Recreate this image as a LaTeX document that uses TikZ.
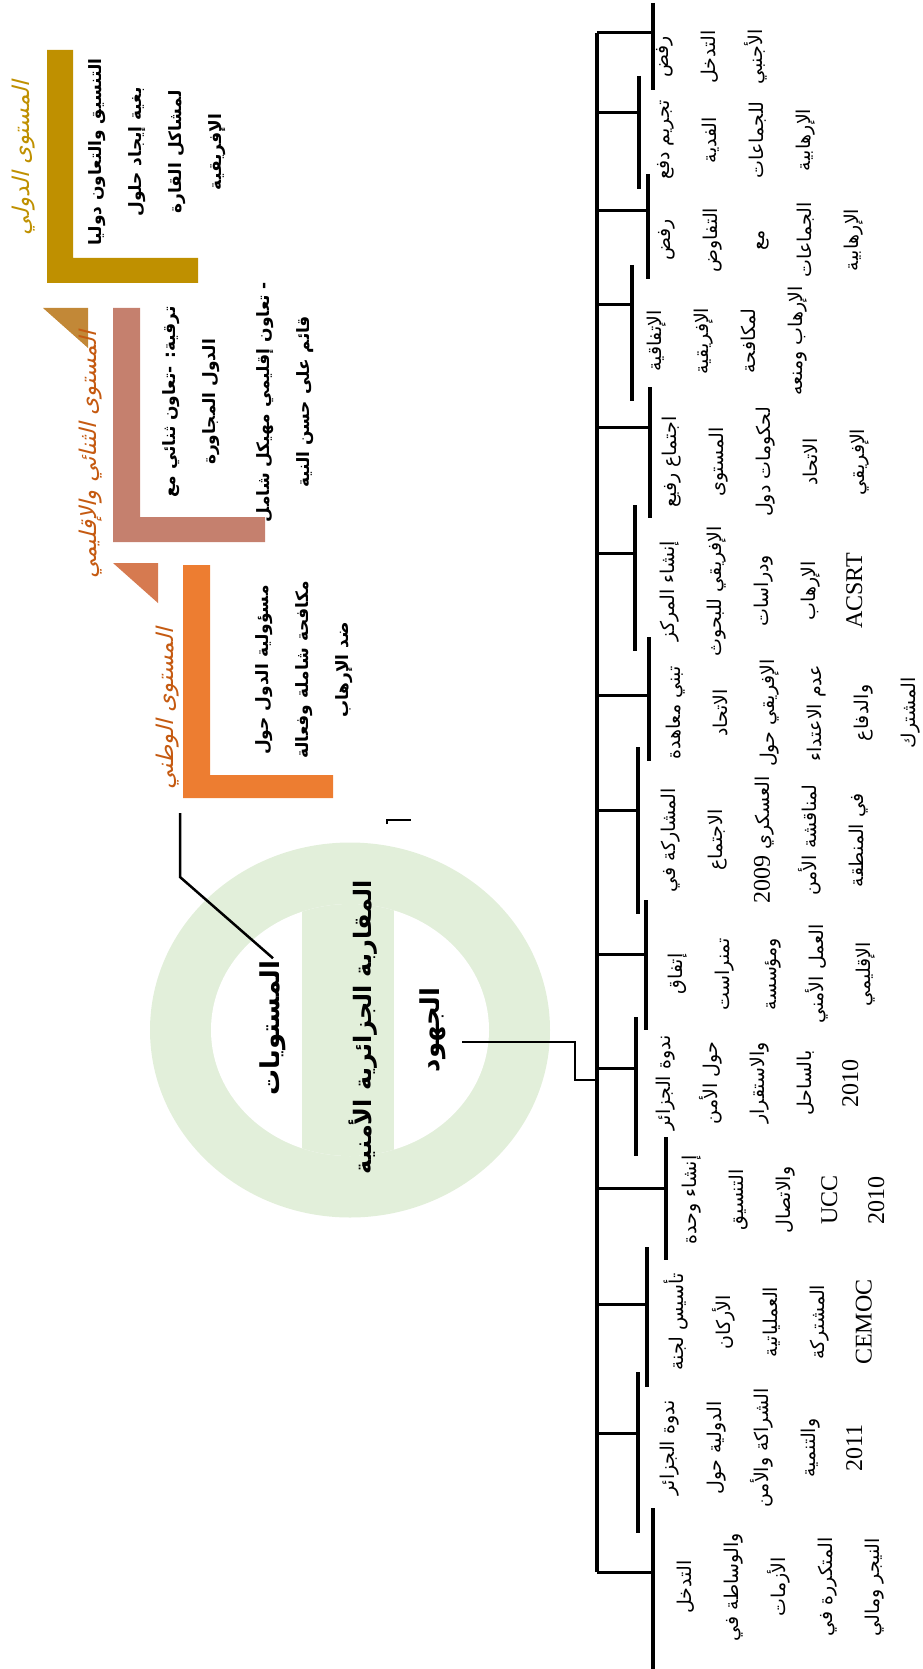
\documentclass[tikz,border=0pt]{standalone}
\usepackage{fontspec}
\setmainfont{Liberation Serif}
\newfontfamily\arabicfont[Script=Arabic]{DejaVu Sans}
\newfontfamily\arabicslant[Script=Arabic,FakeSlant=0.25]{DejaVu Sans}
\TeXXeTstate=1
\usetikzlibrary{calc}

\definecolor{goldlev}{HTML}{BF9000}
\definecolor{roselev}{HTML}{C5806E}
\definecolor{orangelev}{HTML}{ED7D31}
\definecolor{rosetri}{HTML}{C28837}
\definecolor{orangetri}{HTML}{D67A50}
\definecolor{labelbrown}{HTML}{C55A11}
\definecolor{ringgreen}{HTML}{E2EFDA}

\newcommand{\artext}[1]{\beginR#1\endR}
\newcommand{\lat}[1]{\beginL{\rmfamily\fontsize{24}{47}\selectfont #1}\endL}

\begin{document}
\begin{tikzpicture}[
    x=1pt, y=-1pt,
    tree/.style={line width=3.5pt},
    tick/.style={line width=3pt},
    conn/.style={line width=2.5pt},
    item/.style={rotate=90, align=center, inner sep=0pt,
                 font=\arabicfont\fontsize{19}{47}\selectfont},
    levtext/.style={rotate=90, align=center, inner sep=0pt,
                    font=\arabicfont\bfseries\fontsize{17}{40}\selectfont},
    levlabel/.style={rotate=90, inner sep=0pt,
                     font=\arabicslant\fontsize{23}{25}\selectfont},
    hub/.style={rotate=90, inner sep=2pt,
                font=\arabicfont\bfseries\fontsize{26}{30}\selectfont}
  ]
  \useasboundingbox (0,0) rectangle (922,1669);

  % Level frames
  \fill[goldlev] (47,50) -- (73,50) -- (73,258) -- (198,258) -- (198,283) -- (47,283) -- cycle;
  \fill[roselev] (113,308) -- (140,308) -- (140,517) -- (265,517) -- (265,542) -- (113,542) -- cycle;
  \fill[orangelev] (183,565) -- (210,565) -- (210,775) -- (333,775) -- (333,798) -- (183,798) -- cycle;
  \fill[rosetri] (43,308) -- (88,308) -- (88,348) -- cycle;
  \fill[orangetri] (113,563) -- (158,563) -- (158,603) -- cycle;

  % Level labels
  \node[levlabel, text=goldlev] (labint) at (24,158) {\artext{المستوى الدولي}};
  \node[levlabel, text=labelbrown] (labreg) at (91,455) {\artext{المستوى الثنائي والإقليمي}};
  \node[levlabel, text=labelbrown] (labnat) at (168,709) {\artext{المستوى الوطني}};

  % Level texts
  \node[levtext] (txint) at (157,152)
    {\artext{التنسيق والتعاون دوليا}\\\artext{بغية إيجاد حلول}\\\artext{لمشاكل القارة}\\\artext{الإفريقية}};
  \node[levtext] (txreg) at (238,402)
    {\artext{ترقية: -تعاون ثنائي مع}\\\artext{الدول المجاورة}\\[14pt]\artext{- تعاون إقليمي مهيكل شامل}\\\artext{قائم على حسن النية}};
  \node[levtext] (txnat) at (304,670)
    {\artext{مسؤولية الدول حول}\\\artext{مكافحة شاملة وفعالة}\\\artext{ضد الإرهاب}};

  % Hub ring
  \fill[ringgreen] (350,1030) ellipse [x radius=200, y radius=187.5];
  \fill[white] (350,1030) ellipse [x radius=139, y radius=126];
  \begin{scope}
    \clip (350,1030) ellipse [x radius=139, y radius=126];
    \fill[ringgreen] (302,880) rectangle (394,1180);
  \end{scope}
  \node[hub] (lev) at (273,1028) {\artext{المستويات}};
  \node[hub, font=\arabicfont\bfseries\fontsize{24}{30}\selectfont] (appr) at (363,1027) {\artext{المقاربة الجزائرية الأمنية}};
  \node[hub] (eff) at (433,1030) {\artext{الجهود}};

  % Hub connectors
  \coordinate (levbend) at (180,877);
  \coordinate (levend) at (180,813);
  \draw[conn] (lev.east) -- (levbend) -- (levend);
  \draw[line width=2pt] (387,824) -- (387,820) -- (411,820);
  \coordinate (effbend) at (575,1042);
  \coordinate (spine) at (597,33);
  \coordinate (spineend) at (597,1572);
  \draw[conn] ([xshift=14pt]eff.south |- effbend) -- (effbend) |- (spine |- 0,1080);

  % Spine and item brackets
  \draw[tree] (spine) -- (spineend);
  \foreach \i/\bx/\yt/\yb/\ty in {1/653/3/90/33, 2/639/76/189/113, 3/648/174/279/211,
      4/632/265/401/305, 5/650/387/518/427, 6/635/505/651/553, 7/649/637/761/695,
      8/638/747/914/810, 9/646/900/1030/954, 10/636/1017/1156/1068,
      11/666/1137/1260/1188, 12/647/1247/1387/1304, 13/638/1372/1533/1433,
      14/653/1508/1669/1572} {
    \coordinate (bt\i) at (\bx,\yt);
    \coordinate (bb\i) at (\bx,\yb);
    \coordinate (bk\i) at (\bx,\ty);
    \draw[tree] (bt\i) -- (bb\i);
    \draw[tick] (spine |- bk\i) -- (bk\i);
  }

  % Item texts
  \node[item] (it1) at (712,57) {\artext{رفض}\\\artext{التدخل}\\\artext{الأجنبي}};
  \node[item] (it2) at (736,140) {\artext{تجريم دفع}\\\artext{الفدية}\\\artext{للجماعات}\\\artext{الإرهابية}};
  \node[item] (it3) at (761,240) {\artext{رفض}\\\artext{التفاوض}\\\artext{مع}\\\artext{الجماعات}\\\artext{الإرهابية}};
  \node[item] (it4) at (727,341) {\artext{الإتفاقية}\\\artext{الإفريقية}\\\artext{لمكافحة}\\\artext{الإرهاب ومنعه}};
  \node[item] (it5) at (766,462) {\artext{اجتماع رفيع}\\\artext{المستوى}\\\artext{لحكومات دول}\\\artext{الاتحاد}\\\artext{الإفريقي}};
  \node[item] (it6) at (761,591) {\artext{إنشاء المركز}\\\artext{الإفريقي للبحوث}\\\artext{ودراسات}\\\artext{الإرهاب}\\\lat{ACSRT}};
  \node[item] (it7) at (793,713) {\artext{تبني معاهدة}\\\artext{الاتحاد}\\\artext{الإفريقي حول}\\\artext{عدم الاعتداء}\\\artext{والدفاع}\\\artext{المشترك}};
  \node[item] (it8) at (765,840) {\artext{المشاركة في}\\\artext{الاجتماع}\\\artext{العسكري \lat{2009}}\\\artext{لمناقشة الأمن}\\\artext{في المنطقة}};
  \node[item] (it9) at (772,974) {\artext{إتفاق}\\\artext{تمنراست}\\\artext{ومؤسسة}\\\artext{العمل الأمني}\\\artext{الإقليمي}};
  \node[item] (it10) at (757,1083) {\artext{ندوة الجزائر}\\\artext{حول الأمن}\\\artext{والاستقرار}\\\artext{بالساحل}\\\lat{2010}};
  \node[item] (it11) at (783,1200) {\artext{إنشاء وحدة}\\\artext{التنسيق}\\\artext{والاتصال}\\\lat{UCC}\\\lat{2010}};
  \node[item] (it12) at (768,1322) {\artext{تأسيس لجنة}\\\artext{الأركان}\\\artext{العملياتية}\\\artext{المشتركة}\\\lat{CEMOC}};
  \node[item] (it13) at (761,1448) {\artext{ندوة الجزائر}\\\artext{الدولية حول}\\\artext{الشراكة والأمن}\\\artext{والتنمية}\\\lat{2011}};
  \node[item] (it14) at (781,1587) {\artext{التدخل}\\\artext{والوساطة في}\\\artext{الأزمات}\\\artext{المتكررة في}\\\artext{النيجر ومالي}};
\end{tikzpicture}
\end{document}
